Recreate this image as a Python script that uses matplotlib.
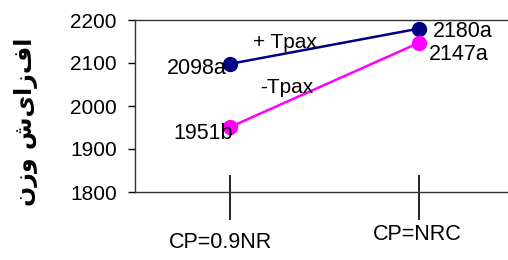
import matplotlib
matplotlib.use("Agg")
import matplotlib.pyplot as plt
import matplotlib.transforms as mtransforms

# data
categories = ["CP=0.9NR", "CP=NRC"]
with_tpax = [2098, 2180]
without_tpax = [1951, 2147]
with_labels = ["2098a", "2180a"]
without_labels = ["1951b", "2147a"]
y_ticks = [1800, 1900, 2000, 2100, 2200]
y_label = "افزایش وزن"

plt.rcParams['font.family'] = ['Liberation Sans', 'DejaVu Sans']

fig = plt.figure(figsize=(5.08, 2.60), dpi=100)
ax = fig.add_axes([135/508, 68/260, 373/508, 172/260])

x = list(range(len(categories)))
ax.plot(x, with_tpax, color='#000080', lw=1.8, marker='o', ms=10, zorder=3)
ax.plot(x, without_tpax, color='#ff00ff', lw=1.8, marker='o', ms=10, zorder=3)

# value labels
offs_with = [(-3, -5, 'right'), (14, -3, 'left')]
offs_without = [(3, -6, 'right'), (10, -12, 'left')]
for i in x:
    dx, dy, ha = offs_with[i]
    ax.annotate(with_labels[i], (x[i], with_tpax[i]), xytext=(dx, dy),
                textcoords='offset pixels', ha=ha, va='center', fontsize=15.5)
    dx, dy, ha = offs_without[i]
    ax.annotate(without_labels[i], (x[i], without_tpax[i]), xytext=(dx, dy),
                textcoords='offset pixels', ha=ha, va='center', fontsize=15.5)

# series names
ax.annotate("+ Tpax", (x[0], with_tpax[0]), xytext=(55, 21),
            textcoords='offset pixels', ha='center', va='center', fontsize=15)
ax.annotate("-Tpax", (x[0], without_tpax[0]), xytext=(57, 40),
            textcoords='offset pixels', ha='center', va='center', fontsize=15)

ax.set_xlim(-0.503, 1.471)
ax.set_ylim(y_ticks[0], y_ticks[-1])
ax.set_yticks(y_ticks)
ax.set_xticks(x)
ax.set_xticks(x, minor=True)
ax.xaxis.remove_overlapping_locs = False
ax.set_xticklabels([])
ax.tick_params(axis='y', direction='out', length=5, width=1, labelsize=15, pad=8)
ax.tick_params(axis='x', which='major', direction='in', length=12, width=1.2)
ax.tick_params(axis='x', which='minor', direction='out', length=20, width=1.2)
for s in ['left', 'top', 'bottom']:
    ax.spines[s].set_linewidth(1)
    ax.spines[s].set_color('#333333')
ax.spines['right'].set_visible(False)

# category labels under the ticks
trans = mtransforms.blended_transform_factory(ax.transData, fig.transFigure)
cat_y = [17/260, 25/260]
cat_dx = [-0.05, -0.01]
for i, c in enumerate(categories):
    ax.text(x[i] + cat_dx[i], cat_y[i], c, transform=trans, ha='center',
            va='center', fontsize=15.5)

fig.text(26/508, 1 - 122/260, y_label[::-1], rotation=90, ha='center', va='center',
         fontsize=17, fontweight='bold', family=['DejaVu Sans'])

fig.savefig("out.png", dpi=100)
